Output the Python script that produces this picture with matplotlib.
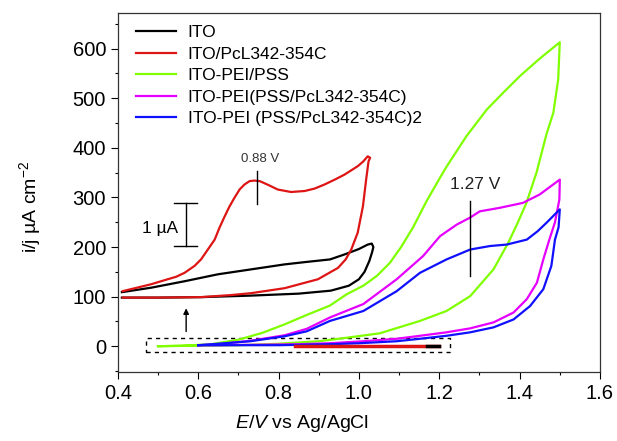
import matplotlib
matplotlib.use("Agg")
import matplotlib.pyplot as plt
from matplotlib.patches import Rectangle
from matplotlib.ticker import MultipleLocator

plt.rcParams['font.family'] = ['Liberation Sans', 'DejaVu Sans']
plt.rcParams['mathtext.fontset'] = 'custom'
plt.rcParams['mathtext.rm'] = 'Liberation Sans'
plt.rcParams['mathtext.it'] = 'Liberation Sans:italic'

# --- data (E in V, i/j in uA cm-2) ---
ito_x = [0.41, 0.50, 0.61, 0.73, 0.85, 0.93, 0.975, 1.0, 1.014, 1.026, 1.033, 1.036, 1.032,
         1.022, 1.0, 0.964, 0.928, 0.87, 0.815, 0.732, 0.649, 0.566, 0.483, 0.41]
ito_y = [98, 98, 99, 102, 106, 112, 122, 135, 150, 172, 190, 200, 207,
         205, 196, 185, 175, 170, 165, 155, 145, 131, 118, 109]

pcl_x = [0.412, 0.50, 0.607, 0.68, 0.732, 0.815, 0.898, 0.948, 0.967, 0.981, 0.997, 1.010,
         1.018, 1.024, 1.028, 1.022, 1.010, 0.997, 0.964, 0.940, 0.914, 0.890, 0.865,
         0.831, 0.798, 0.775, 0.753, 0.740, 0.728, 0.715, 0.703, 0.690, 0.678, 0.666,
         0.653, 0.641, 0.624, 0.607, 0.591, 0.566, 0.545, 0.524, 0.483, 0.412]
pcl_y = [98, 98, 99, 103, 107, 117, 135, 158, 175, 195, 229, 282,
         336, 373, 380, 383, 372, 363, 346, 336, 326, 318, 313,
         311, 316, 325, 333, 334, 333, 326, 316, 299, 282, 262,
         239, 215, 195, 175, 162, 148, 140, 135, 125, 111]

pss_x = [0.50, 0.56, 0.632, 0.70, 0.76, 0.815, 0.87, 0.928, 0.97, 1.011, 1.045, 1.077, 1.105,
         1.135, 1.168, 1.202, 1.218, 1.268, 1.318, 1.36, 1.401, 1.45, 1.500,
         1.496, 1.484, 1.467, 1.442, 1.417, 1.393, 1.372, 1.335, 1.277, 1.218, 1.152,
         1.052, 0.969, 0.90, 0.80, 0.70, 0.60, 0.50]
pss_y = [0, 1, 4, 13, 27, 44, 63, 82, 105, 122, 142, 168, 200,
         240, 292, 340, 362, 424, 477, 512, 545, 580, 613,
         538, 471, 428, 350, 289, 245, 209, 155, 101, 71, 51,
         26, 17, 10, 5, 2, 1, 0]

pcl1_x = [0.60, 0.65, 0.73, 0.815, 0.87, 0.928, 1.011, 1.094, 1.160, 1.202, 1.243, 1.276,
          1.301, 1.350, 1.408, 1.450, 1.500,
          1.499, 1.488, 1.474, 1.459, 1.443, 1.418, 1.385, 1.335, 1.277, 1.218, 1.152,
          1.094, 1.011, 0.928, 0.85, 0.75, 0.65, 0.60]
pcl1_y = [2, 4, 11, 22, 35, 58, 85, 135, 182, 222, 245, 259,
          272, 279, 289, 306, 336,
          296, 250, 215, 175, 128, 95, 68, 48, 36, 28, 21,
          15, 10, 6, 4, 3, 2, 2]

pcl2_x = [0.60, 0.65, 0.73, 0.815, 0.87, 0.928, 1.011, 1.094, 1.152, 1.218, 1.277, 1.326,
          1.368, 1.418, 1.445, 1.467, 1.500,
          1.497, 1.488, 1.479, 1.459, 1.426, 1.385, 1.335, 1.277, 1.218, 1.152, 1.094,
          1.0, 0.928, 0.8, 0.7, 0.6]
pcl2_y = [2, 5, 10, 20, 30, 51, 71, 111, 148, 175, 195, 202,
          205, 215, 232, 249, 276,
          240, 215, 162, 115, 81, 54, 38, 28, 21, 15, 10,
          6, 4, 2, 2, 2]

# real-scale ITO and ITO/PcL traces inside the dashed box
pcl_box_x = [0.84, 1.20]
pcl_box_y = [0, 0]
ito_box_x = [1.17, 1.20]
ito_box_y = [0, 0]

labels = ['ITO', 'ITO/PcL342-354C', 'ITO-PEI/PSS', 'ITO-PEI(PSS/PcL342-354C)',
          'ITO-PEI (PSS/PcL342-354C)2']
colors = ['#000000', '#dd1515', '#80ff00', '#e600ff', '#1010ff']

fig = plt.figure(figsize=(6.17, 4.41), dpi=100)
ax = fig.add_axes([0.191, 0.1565, 0.7814, 0.814])

curves = [(ito_x, ito_y), (pcl_x, pcl_y), (pss_x, pss_y), (pcl1_x, pcl1_y), (pcl2_x, pcl2_y)]
for (xs, ys), lab, c in zip(curves, labels, colors):
    ax.plot(xs, ys, color=c, lw=1.6, label=lab, solid_joinstyle='round')

ax.plot(pcl_box_x, pcl_box_y, color=colors[1], lw=2.5)
ax.plot(ito_box_x, ito_box_y, color=colors[0], lw=2.5)

# dashed box + arrow
ax.add_patch(Rectangle((0.47, -11), 0.756, 28, fill=False, ls=(0, (3, 3)), lw=1, ec='black'))
ax.annotate('', xy=(0.570, 82), xytext=(0.570, 24),
            arrowprops=dict(arrowstyle='-|>', color='black', lw=1, mutation_scale=8))

# 1 uA scale bar
ax.plot([0.570, 0.570], [202, 289], color='black', lw=1)
ax.plot([0.541, 0.597], [289, 289], color='black', lw=1)
ax.plot([0.541, 0.597], [202, 202], color='black', lw=1)
ax.text(0.504, 237, '1 µA', fontsize=12.5, ha='center', va='center')

# peak markers
ax.plot([0.747, 0.747], [286, 353], color='black', lw=1)
ax.text(0.753, 366, '0.88 V', fontsize=9.5, ha='center', va='bottom', color='#333333')
ax.plot([1.276, 1.276], [141, 292], color='black', lw=1)
ax.text(1.289, 326, '1.27 V', fontsize=12.5, ha='center', va='center', color='#222222')

ax.set_xlim(0.4, 1.6)
ax.set_ylim(-52, 672)
ax.xaxis.set_major_locator(MultipleLocator(0.2))
ax.xaxis.set_minor_locator(MultipleLocator(0.1))
ax.yaxis.set_major_locator(MultipleLocator(100))
ax.yaxis.set_minor_locator(MultipleLocator(50))
ax.set_xticks([0.4, 0.6, 0.8, 1.0, 1.2, 1.4, 1.6])
ax.set_xticklabels(['0.4', '0.6', '0.8', '1.0', '1.2', '1.4', '1.6'])
ax.tick_params(which='major', direction='out', length=5, width=0.8, labelsize=14.5)
ax.tick_params(which='minor', direction='out', length=2.5, width=0.8)
for s in ax.spines.values():
    s.set_linewidth(0.9)
    s.set_color('#333333')

ax.set_xlabel(r'$E$/$V$ vs Ag/AgCl', fontsize=14)
ax.xaxis.set_label_coords(0.382, -0.115)
ax.set_ylabel('i/j µA cm$^{-2}$', fontsize=14)
ax.yaxis.set_label_coords(-0.155, 0.46)

ax.legend(loc='upper left', bbox_to_anchor=(0.037, 0.967), frameon=False, fontsize=12.5,
          handlelength=2.3, handletextpad=0.7, labelspacing=0.37, borderpad=0,
          borderaxespad=0)

fig.savefig('out.png', dpi=100)
